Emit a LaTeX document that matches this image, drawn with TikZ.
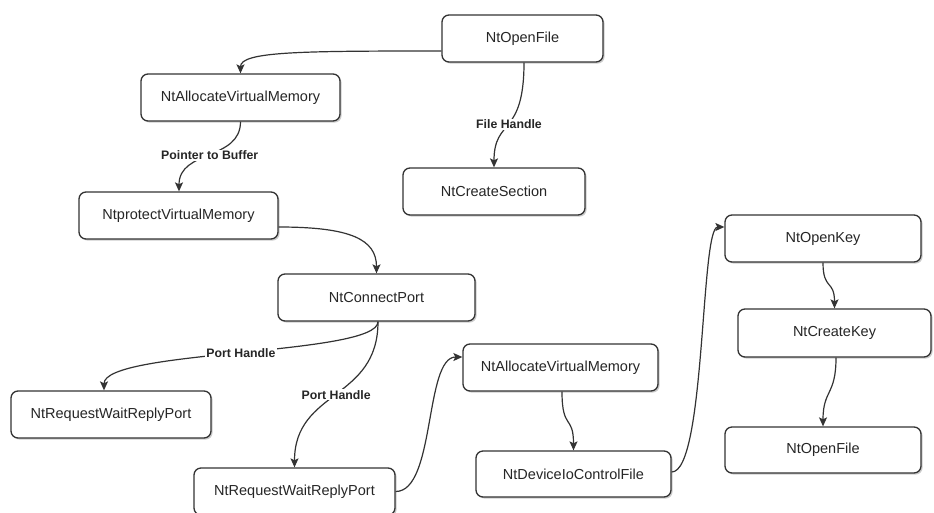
\documentclass[tikz,border=0pt]{standalone}
\usepackage{fontspec}
\setmainfont{Liberation Sans}
\usetikzlibrary{arrows.meta,shadows}
\definecolor{lncol}{HTML}{333333}
\definecolor{txtcol}{HTML}{262626}
\tikzset{
  box/.style={draw=lncol, line width=1.3pt, rounded corners=7pt, fill=white,
    minimum height=47pt, inner sep=0pt, text=txtcol,
    font=\fontsize{14.5}{16}\selectfont,
    drop shadow={shadow xshift=1.6pt, shadow yshift=-1.6pt, opacity=0.4, fill=gray}},
  conn/.style={draw=lncol, line width=1.2pt, -{Stealth[length=9pt,width=8pt,inset=2pt]}},
  lbl/.style={fill=white, inner sep=1pt, text=txtcol, font=\bfseries\fontsize{12.3}{14}\selectfont}
}
\begin{document}
\begin{tikzpicture}[x=1pt,y=-1pt]
\path[use as bounding box] (0,0) rectangle (934,512);
\clip (0,0) rectangle (934,512);
\fill[white] (0,0) rectangle (934,512);
% nodes
\node[box, minimum width=161pt] (of1) at (522.5,38.5) {NtOpenFile};
\node[box, minimum width=199pt] (av1) at (240.5,97.5) {NtAllocateVirtualMemory};
\node[box, minimum width=182pt] (cs)  at (494,191.5) {NtCreateSection};
\node[box, minimum width=199pt] (pv)  at (178.5,215.5) {NtprotectVirtualMemory};
\node[box, minimum width=197pt] (cp)  at (376.5,297.5) {NtConnectPort};
\node[box, minimum width=200pt] (rw1) at (111,414.5) {NtRequestWaitReplyPort};
\node[box, minimum width=201pt] (rw2) at (294.5,491.5) {NtRequestWaitReplyPort};
\node[box, minimum width=195pt] (av2) at (560.5,367.5) {NtAllocateVirtualMemory};
\node[box, minimum width=195pt, minimum height=46pt] (dc) at (573.5,474) {NtDeviceIoControlFile};
\node[box, minimum width=196pt] (ok)  at (823,238.5) {NtOpenKey};
\node[box, minimum width=193pt, minimum height=48pt] (ck) at (834.5,333) {NtCreateKey};
\node[box, minimum width=196pt, minimum height=46pt] (of2) at (823,450) {NtOpenFile};
% connectors
\draw[conn] ([yshift=-12.5pt]of1.west) .. controls +(-140,0) and +(0,-22) .. (av1.north);
\draw[conn] ([xshift=1.5pt]of1.south) .. controls +(0,75) and +(0,-50) .. (cs.north)
  node[lbl, pos=0.5] {File Handle};
\draw[conn] (av1.south) .. controls +(0,39) and +(0,-42) .. ([xshift=0.5pt]pv.north)
  node[lbl, pos=0.5] {Pointer to Buffer};
\draw[conn] ([yshift=-11.5pt]pv.east) .. controls +(72,0) and +(0,-34) .. (cp.north);
\draw[conn] ([xshift=1.5pt]cp.south) .. controls +(0,34) and +(0,-41) .. ([xshift=-7pt]rw1.north)
  node[lbl, pos=0.5] {Port Handle};
\draw[conn] ([xshift=1.5pt]cp.south) .. controls +(0,79) and +(0,-78) .. (rw2.north)
  node[lbl, pos=0.5] {Port Handle};
\draw[conn] (rw2.east) .. controls +(40,0) and +(-38,0) .. ([yshift=10.5pt]av2.west);
\draw[conn] ([xshift=1.5pt]av2.south) .. controls +(0,39) and +(0,-36) .. (dc.north);
\draw[conn] ([yshift=2pt]dc.east) .. controls +(34,0) and +(-24,0) .. ([yshift=11.5pt]ok.west);
\draw[conn] (ok.south) .. controls +(0,28) and +(0,-29) .. (ck.north);
\draw[conn] ([xshift=1.5pt]ck.south) .. controls +(0,38) and +(0,-37) .. (of2.north);
\end{tikzpicture}
\end{document}
